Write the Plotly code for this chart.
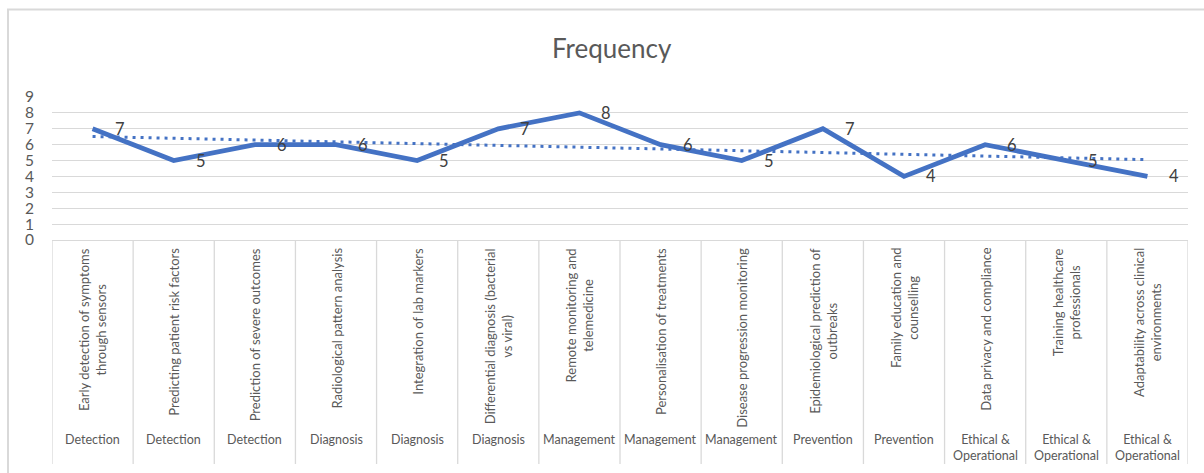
import numpy as np
import plotly.graph_objects as go

W, H = 1204, 473

categories = [
    "Early detection of symptoms<br>through sensors",
    "Predicting patient risk factors",
    "Prediction of severe outcomes",
    "Radiological pattern analysis",
    "Integration of lab markers",
    "Differential diagnosis (bacterial<br>vs viral)",
    "Remote monitoring and<br>telemedicine",
    "Personalisation of treatments",
    "Disease progression monitoring",
    "Epidemiological prediction of<br>outbreaks",
    "Family education and<br>counselling",
    "Data privacy and compliance",
    "Training healthcare<br>professionals",
    "Adaptability across clinical<br>environments",
]
groups = [
    "Detection", "Detection", "Detection",
    "Diagnosis", "Diagnosis", "Diagnosis",
    "Management", "Management", "Management",
    "Prevention", "Prevention",
    "Ethical &<br>Operational", "Ethical &<br>Operational", "Ethical &<br>Operational",
]
frequency = [7, 5, 6, 6, 5, 7, 8, 6, 5, 7, 4, 6, 5, 4]
y_ticks = list(range(0, 10))

FONT = "Lato"
BLUE = "#4472C4"
GRID = "#d9d9d9"


def px_x(p):
    return p / W


def px_y(p):
    return 1 - p / H


xs = list(range(len(frequency)))
slope, intercept = np.polyfit(xs, frequency, 1)
trend = [slope * x + intercept for x in xs]

fig = go.Figure()
fig.add_trace(go.Scatter(
    x=xs, y=trend, mode="lines",
    line=dict(color=BLUE, width=3, dash="3px,5px"),
    hoverinfo="skip", showlegend=False,
))
fig.add_trace(go.Scatter(
    x=xs, y=frequency, mode="lines",
    line=dict(color=BLUE, width=4.8),
    showlegend=False,
))

shapes = []
annotations = []

# outer chart border
shapes.append(dict(type="rect", xref="paper", yref="paper",
                   x0=px_x(8), x1=px_x(1215), y0=px_y(9.5), y1=px_y(490),
                   line=dict(color=GRID, width=2), layer="below"))

# category table dividers
for i in range(len(categories) + 1):
    shapes.append(dict(type="line", xref="x", yref="paper",
                       x0=i - 0.5, x1=i - 0.5, y0=px_y(240), y1=px_y(464),
                       line=dict(color=GRID, width=1.3)))

for i, (c, g) in enumerate(zip(categories, groups)):
    annotations.append(dict(xref="x", yref="paper", x=i, y=px_y(246),
                            xanchor="center", yanchor="top", textangle=-90,
                            text=c, showarrow=False, align="center",
                            font=dict(family=FONT, size=13, color="#595959")))
    annotations.append(dict(xref="x", yref="paper", x=i, y=px_y(430),
                            xanchor="center", yanchor="top",
                            text=g, showarrow=False, align="center",
                            font=dict(family=FONT, size=12.5, color="#595959")))

for i, v in enumerate(frequency):
    annotations.append(dict(xref="x", yref="y", x=i, y=v, xshift=27,
                            text=str(v), showarrow=False,
                            font=dict(family=FONT, size=16.5, color="#404040")))

annotations.append(dict(xref="paper", yref="paper", x=px_x(612), y=px_y(48),
                        xanchor="center", yanchor="middle", text="Frequency",
                        showarrow=False,
                        font=dict(family=FONT, size=26, color="#595959")))

fig.update_layout(
    template="none",
    width=W, height=H,
    margin=dict(l=0, r=0, t=0, b=0),
    paper_bgcolor="white", plot_bgcolor="white",
    shapes=shapes, annotations=annotations,
    xaxis=dict(domain=[px_x(52), px_x(1188)], range=[-0.5, len(frequency) - 0.5],
               showgrid=False, showticklabels=False, zeroline=False,
               showline=False, ticks="", automargin=False, fixedrange=True),
    yaxis=dict(domain=[px_y(240), px_y(97)], range=[0, 9],
               tickvals=y_ticks, ticktext=[str(t) for t in y_ticks],
               showgrid=True, gridcolor=GRID, gridwidth=1.3,
               zeroline=True, zerolinecolor=GRID, zerolinewidth=1.3,
               showline=False, ticks="", ticklabelstandoff=17,
               tickfont=dict(family=FONT, size=15.5, color="#595959"),
               automargin=False, fixedrange=True),
    showlegend=False,
)

fig.write_html("out.html")
